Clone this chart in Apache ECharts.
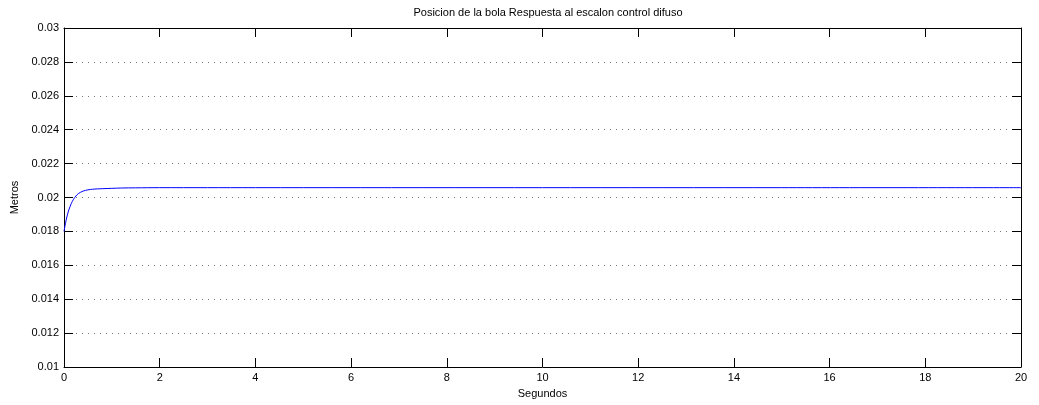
<!DOCTYPE html>
<html>
<head>
<meta charset="utf-8">
<script src="https://cdn.jsdelivr.net/npm/echarts@6/dist/echarts.min.js"></script>
<style>
  html, body { margin: 0; padding: 0; background: #fff; }
  #chart { width: 1039px; height: 405px; }
</style>
</head>
<body>
<div id="chart"></div>
<script>
// Step response of the ball position under fuzzy control
const tiempo = [0, 0.02, 0.04, 0.06, 0.08, 0.1, 0.15, 0.2, 0.25, 0.3, 0.4, 0.5, 0.6, 0.8, 1.0, 1.2, 1.5, 2, 3, 5, 10, 15, 20];
const posicion = [0.0180, 0.01832, 0.01860, 0.01885, 0.01907, 0.01926, 0.01963, 0.01990, 0.02009, 0.02023, 0.02038, 0.02045, 0.02049, 0.02052, 0.02054, 0.02056, 0.02057, 0.02058, 0.02058, 0.02058, 0.02058, 0.02058, 0.02058];
const xTicks = [0, 2, 4, 6, 8, 10, 12, 14, 16, 18, 20];
const yTicks = [0.01, 0.012, 0.014, 0.016, 0.018, 0.02, 0.022, 0.024, 0.026, 0.028, 0.03];

const font = 'Liberation Sans, Arial, Helvetica, sans-serif';
const axisLine = { show: true, onZero: false, lineStyle: { color: '#000', width: 1 } };
const tickIn = { show: true, inside: true, length: 9, lineStyle: { color: '#000', width: 1 } };

const chart = echarts.init(document.getElementById('chart'), null, { renderer: 'canvas' });
chart.setOption({
  animation: false,
  backgroundColor: '#fff',
  title: {
    text: 'Posicion de la bola Respuesta al escalon control difuso',
    left: 543, top: 2, textAlign: 'center',
    textStyle: { fontFamily: font, fontSize: 11, fontWeight: 'normal', color: '#000' }
  },
  grid: { left: 64, right: 18, top: 28, bottom: 38, containLabel: false },
  xAxis: [{
    type: 'value', min: 0, max: 20, interval: 2,
    name: 'Segundos', nameLocation: 'middle', nameGap: 21,
    nameTextStyle: { fontFamily: font, fontSize: 11, color: '#000' },
    axisLine: axisLine, axisTick: tickIn,
    axisLabel: { fontFamily: font, fontSize: 11, color: '#000', margin: 5,
      formatter: v => xTicks.includes(v) ? String(v) : '' },
    splitLine: { show: false }
  }, {
    type: 'value', position: 'top', min: 0, max: 20, interval: 2,
    axisLine: axisLine, axisTick: tickIn, axisLabel: { show: false }, splitLine: { show: false }
  }],
  yAxis: [{
    type: 'value', min: 0.01, max: 0.03, interval: 0.002,
    name: 'Metros', nameLocation: 'middle', nameGap: 42, nameRotate: 90,
    nameTextStyle: { fontFamily: font, fontSize: 11, color: '#000' },
    axisLine: axisLine, axisTick: tickIn,
    axisLabel: { fontFamily: font, fontSize: 11, color: '#000', margin: 5,
      formatter: v => { const t = yTicks.find(y => Math.abs(y - v) < 1e-9); return t === undefined ? '' : String(t); } },
    splitLine: { show: true, lineStyle: { color: '#777', type: [1, 5], width: 1 } }
  }, {
    type: 'value', position: 'right', min: 0.01, max: 0.03, interval: 0.002,
    axisLine: axisLine, axisTick: tickIn, axisLabel: { show: false }, splitLine: { show: false }
  }],
  series: [{
    type: 'line',
    data: tiempo.map((t, i) => [t, posicion[i]]),
    smooth: 0.3,
    showSymbol: false,
    lineStyle: { color: '#0000ff', width: 1 },
    clip: true
  }]
});
</script>
</body>
</html>
